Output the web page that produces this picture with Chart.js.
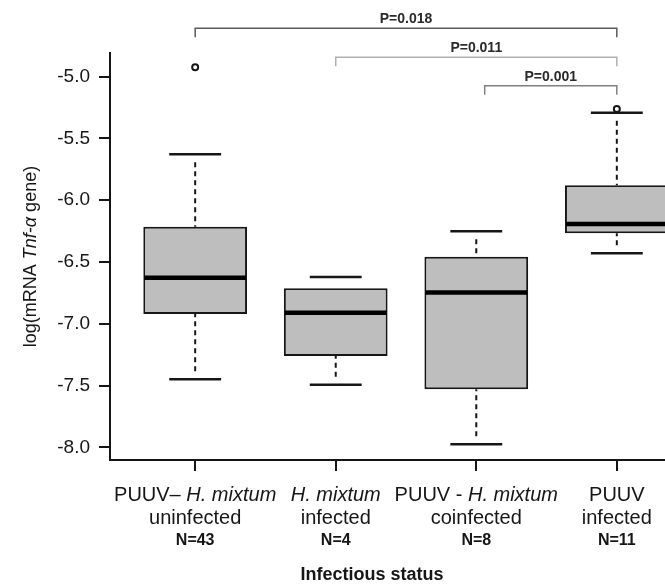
<!DOCTYPE html>
<html>
<head>
<meta charset="utf-8">
<script src="https://cdn.jsdelivr.net/npm/chart.js@4.4.1/dist/chart.umd.min.js"></script>
<style>
  html, body { margin: 0; padding: 0; background: #fff; overflow: hidden; }
  #wrap { width: 665px; height: 586px; overflow: hidden; }
</style>
</head>
<body>
<div id="wrap"><canvas id="chartContainer" width="708" height="586"></canvas></div>
<script>
// groups on the x axis (positions 1..4)
const groupPos = [1, 2, 3, 4];
const labelPrefix = ['PUUV\u2013 ', '', 'PUUV - ', 'PUUV'];
const labelItalic = ['H. mixtum', 'H. mixtum', 'H. mixtum', ''];
const labelStatus = ['uninfected', 'infected', 'coinfected', 'infected'];
const sampleSizes = [43, 4, 8, 11];

// box stats
const whiskerLow = [-7.45, -7.494, -7.975, -6.43];
const quartile1 = [-6.921, -7.262, -7.531, -6.268];
const medians = [-6.627, -6.911, -6.746, -6.193];
const quartile3 = [-6.215, -6.713, -6.457, -5.879];
const whiskerHigh = [-5.628, -6.622, -6.251, -5.291];
const outlierX = [1, 4];
const outlierY = [-4.924, -5.262];

const yTicks = [-8.0, -7.5, -7.0, -6.5, -6.0, -5.5, -5.0];

// significance brackets
const pairFrom = [1, 2, 3.06];
const pairTo = [4, 4, 4];
const pairY = [-4.608, -4.843, -5.073];
const pairText = ['P=0.018', 'P=0.011', 'P=0.001'];

const xTitle = 'Infectious status';

const FONT = "'Liberation Sans', Arial, sans-serif";
const INK = '#161616';

const boxExtras = {
    id: 'boxExtras',
    // whiskers and caps go under the boxes
    beforeDatasetsDraw(chart) {
        const ctx = chart.ctx;
        const ys = chart.scales.y;
        const bars = chart.getDatasetMeta(0).data;
        ctx.save();
        ctx.strokeStyle = INK;
        bars.forEach((bar, i) => {
            const cx = bar.x;
            const half = bar.width / 4;
            const yLo = ys.getPixelForValue(whiskerLow[i]);
            const yHi = ys.getPixelForValue(whiskerHigh[i]);
            const yQ1 = ys.getPixelForValue(quartile1[i]);
            const yQ3 = ys.getPixelForValue(quartile3[i]);

            // dashed whisker, only where there is room for a dash
            ctx.lineWidth = 2;
            ctx.setLineDash([5, 4]);
            ctx.lineDashOffset = 5;
            ctx.beginPath();
            if (yQ3 - yHi > 14) {
                ctx.moveTo(cx, yHi + 4);
                ctx.lineTo(cx, yQ3);
            }
            if (yLo - yQ1 > 14) {
                ctx.moveTo(cx, yLo - 4);
                ctx.lineTo(cx, yQ1);
            }
            ctx.stroke();

            ctx.setLineDash([]);
            ctx.lineWidth = 2.5;
            ctx.beginPath();
            ctx.moveTo(cx - half, yHi);
            ctx.lineTo(cx + half, yHi);
            ctx.moveTo(cx - half, yLo);
            ctx.lineTo(cx + half, yLo);
            ctx.stroke();
        });
        ctx.restore();
    },
    // medians on top of the boxes
    afterDatasetsDraw(chart) {
        const ctx = chart.ctx;
        const ys = chart.scales.y;
        const bars = chart.getDatasetMeta(0).data;
        ctx.save();
        ctx.strokeStyle = '#000';
        ctx.lineWidth = 4.5;
        bars.forEach((bar, i) => {
            const y = ys.getPixelForValue(medians[i]);
            ctx.beginPath();
            ctx.moveTo(bar.x - bar.width / 2 + 1, y);
            ctx.lineTo(bar.x + bar.width / 2 - 1, y);
            ctx.stroke();
        });
        ctx.restore();
    },
    afterDraw(chart) {
        const ctx = chart.ctx;
        const xs = chart.scales.x;
        const ys = chart.scales.y;
        const area = chart.chartArea;
        ctx.save();

        // group labels under the axis
        ctx.fillStyle = INK;
        ctx.textBaseline = 'alphabetic';
        groupPos.forEach((g, i) => {
            const cx = xs.getPixelForValue(g);
            const base = area.bottom;
            const normal = '20px ' + FONT;
            const italic = 'italic 20px ' + FONT;
            ctx.font = normal;
            const w1 = ctx.measureText(labelPrefix[i]).width;
            ctx.font = italic;
            const w2 = ctx.measureText(labelItalic[i]).width;
            let x = cx - (w1 + w2) / 2;
            ctx.textAlign = 'left';
            ctx.font = normal;
            ctx.fillText(labelPrefix[i], x, base + 41);
            ctx.font = italic;
            ctx.fillText(labelItalic[i], x + w1, base + 41);

            ctx.textAlign = 'center';
            ctx.font = normal;
            ctx.fillText(labelStatus[i], cx, base + 64);
            ctx.font = 'bold 16px ' + FONT;
            ctx.fillText('N=' + sampleSizes[i], cx, base + 85);
        });

        // x axis title (the original figure is cropped, so it sits left of centre)
        ctx.font = 'bold 18px ' + FONT;
        ctx.textAlign = 'center';
        ctx.fillText(xTitle, area.left + 262, chart.height - 6);

        // y axis title, with the gene name in italics
        const parts = [['log(mRNA ', ''], ['Tnf-\u03b1', 'italic '], [' gene)', '']];
        const ySize = '18px ';
        let total = 0;
        parts.forEach(p => { ctx.font = p[1] + ySize + FONT; total += ctx.measureText(p[0]).width; });
        ctx.translate(31, (area.top + area.bottom) / 2);
        ctx.rotate(-Math.PI / 2);
        ctx.textAlign = 'left';
        ctx.textBaseline = 'middle';
        let tx = -total / 2;
        parts.forEach(p => {
            ctx.font = p[1] + ySize + FONT;
            ctx.fillText(p[0], tx, 0);
            tx += ctx.measureText(p[0]).width;
        });
        ctx.setTransform(1, 0, 0, 1, 0, 0);

        // significance brackets
        const bracketColor = ['#5a5a5a', '#b0b0b0', '#808080'];
        pairText.forEach((t, i) => {
            const x0 = xs.getPixelForValue(pairFrom[i]);
            const x1 = xs.getPixelForValue(pairTo[i]);
            const y = ys.getPixelForValue(pairY[i]);
            ctx.strokeStyle = bracketColor[i];
            ctx.lineWidth = 1.5;
            ctx.beginPath();
            ctx.moveTo(x0, y + 9);
            ctx.lineTo(x0, y);
            ctx.lineTo(x1, y);
            ctx.lineTo(x1, y + 9);
            ctx.stroke();
            ctx.fillStyle = '#2a2a2a';
            ctx.font = 'bold 14px ' + FONT;
            ctx.textAlign = 'center';
            ctx.textBaseline = 'alphabetic';
            ctx.fillText(t, (x0 + x1) / 2, y - 5);
        });
        ctx.restore();
    }
};

const axisLine = { display: true, color: INK, width: 2 };
const tickMarks = { drawOnChartArea: false, drawTicks: true, tickLength: 11, lineWidth: 2, color: INK, offset: false };

const chart = new Chart(document.getElementById('chartContainer'), {
    data: {
        datasets: [
            {
                type: 'bar',
                data: groupPos.map((g, i) => ({ x: g, y: [quartile1[i], quartile3[i]] })),
                backgroundColor: '#bebebe',
                borderColor: INK,
                borderWidth: 2,
                borderSkipped: false,
                barPercentage: 0.738,
                categoryPercentage: 1
            },
            {
                type: 'scatter',
                data: outlierX.map((g, i) => ({ x: g, y: outlierY[i] })),
                pointRadius: 3,
                pointBorderWidth: 2,
                pointBackgroundColor: '#fff',
                pointBorderColor: INK
            }
        ]
    },
    options: {
        responsive: false,
        animation: false,
        devicePixelRatio: 1,
        layout: { padding: { top: 53, left: 0, right: 0, bottom: 0 } },
        plugins: { legend: { display: false }, tooltip: { enabled: false } },
        events: [],
        scales: {
            x: {
                type: 'linear',
                offset: false,
                min: 0.394,
                max: 4.606,
                afterBuildTicks: s => { s.ticks = groupPos.map(v => ({ value: v })); },
                afterFit: s => { s.height = 126; },
                ticks: { display: false },
                grid: tickMarks,
                border: axisLine
            },
            y: {
                type: 'linear',
                min: -8.103,
                max: -4.808,
                afterBuildTicks: s => { s.ticks = yTicks.map(v => ({ value: v })); },
                afterFit: s => { s.width = 110; },
                ticks: {
                    callback: v => v.toFixed(1),
                    color: INK,
                    font: { family: FONT, size: 19 },
                    padding: 9
                },
                grid: tickMarks,
                border: axisLine
            }
        }
    },
    plugins: [boxExtras]
});
</script>
</body>
</html>
